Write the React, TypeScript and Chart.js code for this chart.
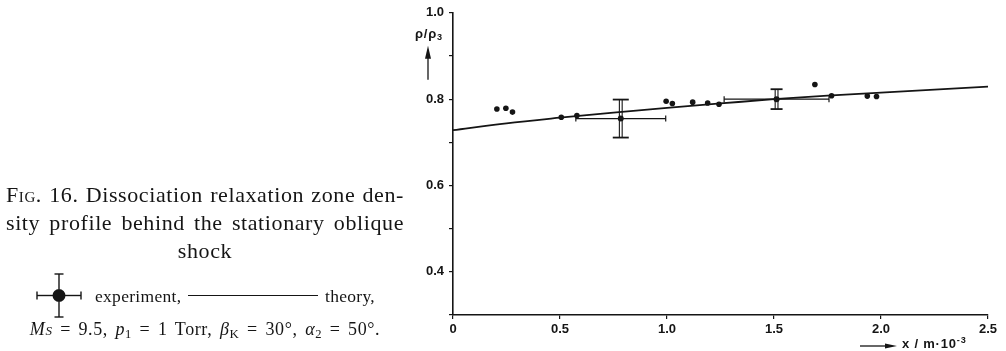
import React, { useEffect, useRef } from "react";
import { Chart, registerables } from "chart.js";

Chart.register(...registerables);

// Theoretical density profile rho/rho3 along x (in units of 10^-3 m)
const THEORY_X = [0, 0.25, 0.5, 0.75, 1.0, 1.25, 1.5, 1.75, 2.0, 2.25, 2.5];
const THEORY_Y = [0.728, 0.744, 0.757, 0.769, 0.78, 0.79, 0.8, 0.808, 0.815, 0.822, 0.829];

// Measured points without error estimates
const EXP_X = [0.205, 0.247, 0.278, 0.506, 0.579, 0.996, 1.025, 1.12, 1.19, 1.243, 1.691, 1.769, 1.936, 1.979];
const EXP_Y = [0.777, 0.779, 0.77, 0.758, 0.762, 0.795, 0.79, 0.793, 0.791, 0.788, 0.834, 0.808, 0.807, 0.806];

// Measured points with error bars (half-widths in x and y)
const ERR_X = [0.784, 1.512];
const ERR_Y = [0.755, 0.8];
const ERR_DX = [0.21, 0.245];
const ERR_DY = [0.044, 0.023];

// Axis ticks
const X_TICKS = [0, 0.5, 1.0, 1.5, 2.0, 2.5];
const Y_LABELLED = [0.4, 0.6, 0.8, 1.0];

const INK = "#151515";
const SERIF = "'Liberation Serif', 'Times New Roman', serif";
const SANS = "'Liberation Sans', Arial, sans-serif";

const errorBarPlugin = {
  id: "errorBars",
  afterDatasetsDraw(chart: any) {
    const { ctx, scales } = chart;
    const xs = scales.x;
    const ys = scales.y;
    const capHalf = [8, 6];
    const seg = (x1: number, y1: number, x2: number, y2: number) => {
      ctx.beginPath();
      ctx.moveTo(x1, y1);
      ctx.lineTo(x2, y2);
      ctx.stroke();
    };
    ctx.save();
    ctx.strokeStyle = INK;
    ERR_X.forEach((xv, i) => {
      const cx = xs.getPixelForValue(xv);
      const cy = ys.getPixelForValue(ERR_Y[i]);
      const top = ys.getPixelForValue(ERR_Y[i] + ERR_DY[i]);
      const bot = ys.getPixelForValue(ERR_Y[i] - ERR_DY[i]);
      const left = xs.getPixelForValue(xv - ERR_DX[i]);
      const right = xs.getPixelForValue(xv + ERR_DX[i]);
      // vertical bar drawn as a narrow double stroke
      ctx.lineWidth = 1.1;
      seg(cx - 1.4, top, cx - 1.4, bot);
      seg(cx + 1.4, top, cx + 1.4, bot);
      ctx.lineWidth = 1.8;
      seg(cx - capHalf[i], top, cx + capHalf[i], top);
      seg(cx - capHalf[i], bot, cx + capHalf[i], bot);
      // horizontal bar with end ticks
      ctx.lineWidth = 1.2;
      seg(left, cy, right, cy);
      seg(left, cy - 3, left, cy + 3);
      seg(right, cy - 3, right, cy + 3);
    });
    ctx.restore();
  },
};

const arrowPlugin = {
  id: "axisArrows",
  afterDraw(chart: any) {
    const { ctx, chartArea } = chart;
    ctx.save();
    ctx.strokeStyle = INK;
    ctx.fillStyle = INK;
    ctx.lineWidth = 1.3;
    // upward arrow under the y-axis title
    const ax = chartArea.left - 25;
    ctx.beginPath();
    ctx.moveTo(ax, chartArea.top + 67);
    ctx.lineTo(ax, chartArea.top + 42);
    ctx.stroke();
    ctx.beginPath();
    ctx.moveTo(ax, chartArea.top + 33);
    ctx.lineTo(ax - 3, chartArea.top + 46);
    ctx.lineTo(ax + 3, chartArea.top + 46);
    ctx.closePath();
    ctx.fill();
    // rightward arrow before the x-axis title
    const ay = chartArea.bottom + 31;
    const x0 = chartArea.right - 128;
    ctx.beginPath();
    ctx.moveTo(x0, ay);
    ctx.lineTo(x0 + 28, ay);
    ctx.stroke();
    ctx.beginPath();
    ctx.moveTo(x0 + 37, ay);
    ctx.lineTo(x0 + 25, ay - 2.5);
    ctx.lineTo(x0 + 25, ay + 2.5);
    ctx.closePath();
    ctx.fill();
    ctx.restore();
  },
};

function DensityChart() {
  const canvasRef = useRef<HTMLCanvasElement | null>(null);

  useEffect(() => {
    const canvas = canvasRef.current;
    if (!canvas) return;
    const tickFont = { family: SANS, size: 13, weight: "bold" as const };
    const chart = new Chart(canvas, {
      type: "scatter",
      data: {
        datasets: [
          {
            type: "line",
            label: "theory",
            data: THEORY_X.map((x, i) => ({ x, y: THEORY_Y[i] })),
            borderColor: INK,
            borderWidth: 1.8,
            pointRadius: 0,
            cubicInterpolationMode: "monotone",
            fill: false,
          },
          {
            label: "experiment",
            data: EXP_X.map((x, i) => ({ x, y: EXP_Y[i] })),
            backgroundColor: INK,
            borderColor: INK,
            pointRadius: 2.8,
            pointBorderWidth: 0,
          },
          {
            label: "experiment (error)",
            data: ERR_X.map((x, i) => ({ x, y: ERR_Y[i] })),
            backgroundColor: INK,
            borderColor: INK,
            pointRadius: 3,
            pointBorderWidth: 0,
          },
        ],
      } as any,
      options: {
        animation: false,
        responsive: false,
        events: [],
        layout: { padding: { left: 380, right: 18, top: 11, bottom: 0 } },
        plugins: { legend: { display: false }, tooltip: { enabled: false } },
        scales: {
          x: {
            type: "linear",
            min: 0,
            max: 2.5,
            afterFit: (s: any) => {
              s.height = 36;
            },
            afterBuildTicks: (s: any) => {
              s.ticks = X_TICKS.map((v) => ({ value: v }));
            },
            border: { display: true, color: INK, width: 1.6 },
            grid: { display: true, drawOnChartArea: false, drawTicks: true, tickLength: 4, color: INK, lineWidth: 1.2 },
            ticks: {
              color: INK,
              font: tickFont,
              padding: 3,
              maxRotation: 0,
              callback: (v: any) => (Number(v) === 0 ? "0" : Number(v).toFixed(1)),
            },
          },
          y: {
            type: "linear",
            min: 0.3,
            max: 1.0,
            afterFit: (s: any) => {
              s.width = 73;
            },
            border: { display: true, color: INK, width: 1.6 },
            grid: { display: true, drawOnChartArea: false, drawTicks: true, tickLength: 4, color: INK, lineWidth: 1.2 },
            ticks: {
              stepSize: 0.1,
              color: INK,
              font: tickFont,
              padding: 5,
              callback: (v: any) => {
                const n = Math.round(Number(v) * 10) / 10;
                return Y_LABELLED.some((t) => Math.abs(t - n) < 1e-6) ? n.toFixed(1) : "";
              },
            },
          },
        },
      },
      plugins: [errorBarPlugin, arrowPlugin],
    });
    return () => chart.destroy();
  }, []);

  return (
    <canvas
      ref={canvasRef}
      width={1006}
      height={351}
      style={{ position: "absolute", left: 0, top: 0, width: 1006, height: 351 }}
    />
  );
}

const captionLine: React.CSSProperties = {
  position: "absolute",
  left: 6,
  width: 398,
  fontFamily: SERIF,
  fontSize: 22,
  lineHeight: "28px",
  letterSpacing: "0.6px",
  color: INK,
  textAlign: "justify",
  textAlignLast: "justify",
  whiteSpace: "nowrap",
};

const smallLine: React.CSSProperties = {
  position: "absolute",
  fontFamily: SERIF,
  fontSize: 17.5,
  lineHeight: "20px",
  letterSpacing: "0.3px",
  color: INK,
  whiteSpace: "nowrap",
};

const subStyle: React.CSSProperties = { fontSize: "0.7em", verticalAlign: "-0.25em", lineHeight: 0 };

const axisTitle: React.CSSProperties = {
  position: "absolute",
  fontFamily: SANS,
  fontWeight: "bold",
  fontSize: 13,
  lineHeight: "14px",
  letterSpacing: "0.8px",
  color: INK,
  whiteSpace: "nowrap",
};

export default function App() {
  return (
    <div
      style={{
        position: "fixed",
        left: 0,
        top: 0,
        width: 1006,
        height: 351,
        background: "#ffffff",
        overflow: "hidden",
      }}
    >
      <DensityChart />

      {/* axis titles */}
      <div style={{ ...axisTitle, left: 415, top: 27 }}>
        ρ/ρ<span style={subStyle}>3</span>
      </div>
      <div style={{ ...axisTitle, left: 902, top: 337 }}>
        x / m·10<sup style={{ fontSize: "0.7em", verticalAlign: "0.5em", lineHeight: 0 }}>-3</sup>
      </div>

      {/* figure caption */}
      <div style={{ ...captionLine, top: 181 }}>
        <span style={{ fontVariant: "small-caps" }}>Fig.</span> 16. Dissociation relaxation zone den-
      </div>
      <div style={{ ...captionLine, top: 209 }}>sity profile behind the stationary oblique</div>
      <div style={{ ...captionLine, top: 237, textAlign: "center", textAlignLast: "center" }}>shock</div>

      <svg
        width={52}
        height={50}
        style={{ position: "absolute", left: 33, top: 270 }}
        viewBox="33 270 52 50"
      >
        <g stroke={INK} strokeWidth={1.4} fill="none">
          <line x1={54.5} y1={274} x2={63.5} y2={274} />
          <line x1={59} y1={274} x2={59} y2={289} />
          <line x1={54.5} y1={317} x2={63.5} y2={317} />
          <line x1={59} y1={302} x2={59} y2={317} />
          <line x1={37} y1={291.5} x2={37} y2={299.5} />
          <line x1={37} y1={295.5} x2={53} y2={295.5} />
          <line x1={81} y1={291.5} x2={81} y2={299.5} />
          <line x1={65} y1={295.5} x2={81} y2={295.5} />
        </g>
        <circle cx={59} cy={295.5} r={6.5} fill={INK} />
      </svg>
      <div style={{ ...smallLine, left: 95, top: 286 }}>experiment,</div>
      <div
        style={{
          position: "absolute",
          left: 188,
          top: 295,
          width: 130,
          height: 0,
          borderTop: `1.3px solid ${INK}`,
        }}
      />
      <div style={{ ...smallLine, left: 325, top: 286 }}>theory,</div>

      <div
        style={{
          ...smallLine,
          left: 6,
          width: 398,
          top: 319,
          fontSize: 18,
          letterSpacing: "0.6px",
          wordSpacing: "2.5px",
          textAlign: "center",
        }}
      >
        <i>M</i>
        <i style={{ fontVariant: "small-caps" }}>s</i> = 9.5, <i>p</i>
        <span style={subStyle}>1</span> = 1 Torr, <i>β</i>
        <span style={{ ...subStyle, fontSize: "0.72em" }}>K</span> = 30°, <i>α</i>
        <span style={subStyle}>2</span> = 50°.
      </div>
    </div>
  );
}
